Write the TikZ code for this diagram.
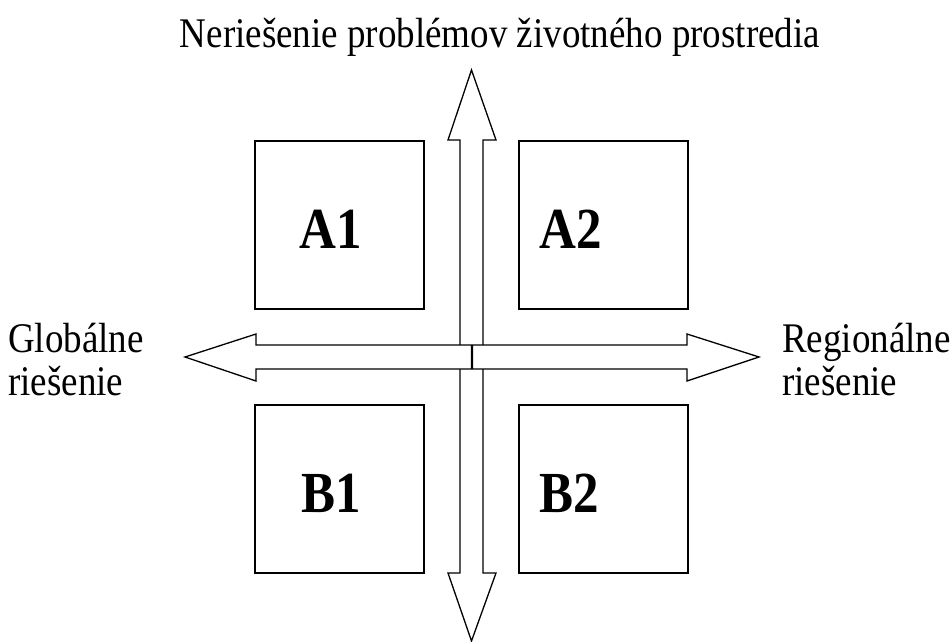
\documentclass[tikz,border=0pt]{standalone}
\usepackage{fontspec}
\setmainfont{Liberation Serif}
\usetikzlibrary{positioning}
\newcommand{\talltext}[1]{\scalebox{1}[1.14]{#1}}

\begin{document}
\begin{tikzpicture}[
    x=1pt, y=-1pt,
    quadrant/.style={rectangle, draw=black, line width=1.3pt, minimum width=169pt, minimum height=168pt, inner sep=0pt},
    qlabel/.style={anchor=base west, inner sep=0pt, font=\fontsize{51}{56}\selectfont\bfseries},
    axislabel/.style={inner sep=0pt, align=left, font=\fontsize{37}{43}\selectfont},
    axis/.style={draw=black, fill=white, line width=1.3pt, line join=miter}
]
    \useasboundingbox (0,0) rectangle (950,642);

    % Vertical axis
    \path[axis] (471.5,70) -- (496,140) -- (483,140) -- (483,573) -- (496,573)
        -- (471.5,641) -- (448,573) -- (460,573) -- (460,140) -- (448,140) -- cycle;

    % Horizontal axis (two halves)
    \path[axis] (185,357) -- (256,334) -- (256,345) -- (471.5,345) -- (471.5,369)
        -- (256,369) -- (256,381) -- cycle;
    \path[axis] (759,357) -- (687,334) -- (687,345) -- (472.5,345) -- (472.5,369)
        -- (687,369) -- (687,381) -- cycle;

    % Quadrants
    \node[quadrant] (A1) at (339.5,225) {};
    \node[quadrant] (A2) at (603.5,225) {};
    \node[quadrant] (B1) at (339.5,489) {};
    \node[quadrant] (B2) at (603.5,489) {};

    \node[qlabel] at ([shift={(45,-61)}]A1.south west) {\talltext{A1}};
    \node[qlabel] at ([shift={(21,-61)}]A2.south west) {\talltext{A2}};
    \node[qlabel] at ([shift={(47,-61)}]B1.south west) {\talltext{B1}};
    \node[qlabel] at ([shift={(21,-61)}]B2.south west) {\talltext{B2}};

    % Axis labels
    \node[axislabel, anchor=base] (top) at (500,48) {\talltext{Neriešenie problémov životného prostredia}};
    \node[axislabel, anchor=base west] (glob) at (8,352) {\talltext{Globálne}};
    \node[axislabel, anchor=base west] (glob2) at (8,395) {\talltext{riešenie}};
    \node[axislabel, anchor=base west] (reg) at (782,352) {\talltext{Regionálne}};
    \node[axislabel, anchor=base west] (reg2) at (782,395) {\talltext{riešenie}};
\end{tikzpicture}
\end{document}
